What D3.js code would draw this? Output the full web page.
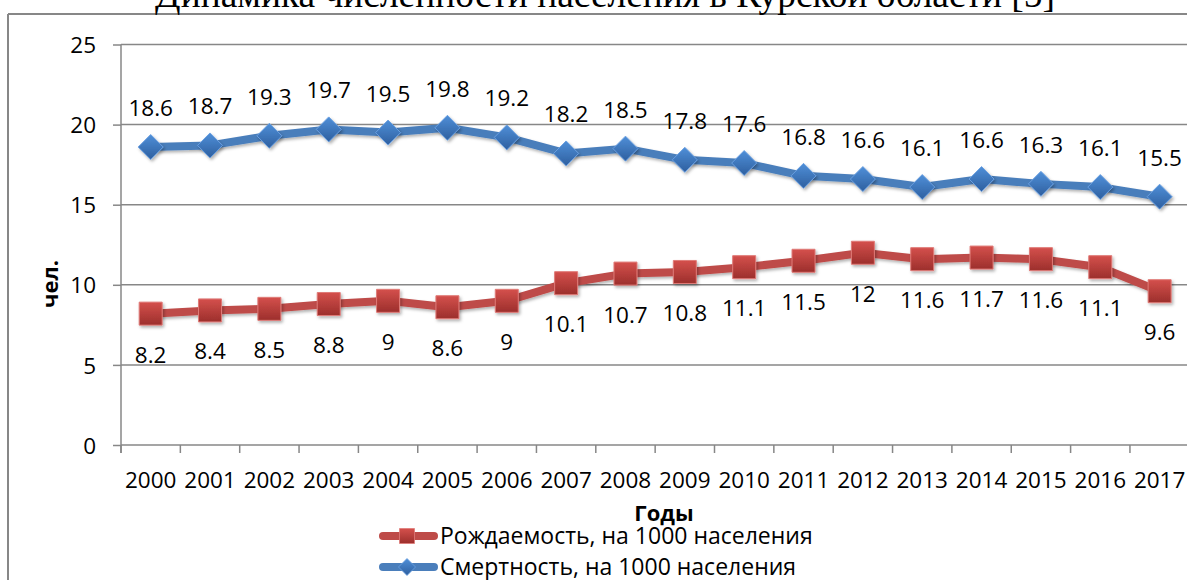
<!DOCTYPE html>
<html>
<head>
<meta charset="utf-8">
<script src="https://cdn.jsdelivr.net/npm/d3@7"></script>
<style>
  body { margin: 0; background: #fff; overflow: hidden; }
  svg { display: block; }
  .lbl { font-family: "Open Sans", sans-serif; fill: #000; }
</style>
</head>
<body>
<svg id="chart" width="1187" height="580"></svg>
<script>
const years = ["2000", "2001", "2002", "2003", "2004", "2005", "2006", "2007", "2008",
  "2009", "2010", "2011", "2012", "2013", "2014", "2015", "2016", "2017"];
const birthRate = [8.2, 8.4, 8.5, 8.8, 9, 8.6, 9, 10.1, 10.7, 10.8, 11.1, 11.5, 12, 11.6, 11.7, 11.6, 11.1, 9.6];
const deathRate = [18.6, 18.7, 19.3, 19.7, 19.5, 19.8, 19.2, 18.2, 18.5, 17.8, 17.6, 16.8, 16.6, 16.1, 16.6, 16.3, 16.1, 15.5];
const yTicks = [0, 5, 10, 15, 20, 25];
const titleText = "Динамика численности населения в Курской области [5]";
const xTitle = "Годы";
const yTitle = "чел.";

const series = [
  { name: "Рождаемость, на 1000 населения", values: birthRate, line: "#be4b48", hi: "#d4504c", lo: "#9c2f2c", edge: "#e07b78", shape: "square", labelPos: "below" },
  { name: "Смертность, на 1000 населения", values: deathRate, line: "#4a7ebb", hi: "#4f8fd8", lo: "#2e5f9f", edge: "#6a9fe0", shape: "diamond", labelPos: "above" }
];

const svg = d3.select("#chart");
const grey = "#878787";
const plotLeft = 121, plotRight = 121 + 59.35 * 18, plotTop = 44.5, plotBottom = 445;

const x = d3.scaleBand().domain(years).range([plotLeft, plotRight]);
const y = d3.scaleLinear().domain([0, 25]).range([plotBottom, plotTop]);
const cx = (yr) => x(yr) + x.bandwidth() / 2;

const defs = svg.append("defs");
series.forEach((s, i) => {
  const g = defs.append("linearGradient").attr("id", `mk${i}`).attr("x1", 0).attr("x2", 0).attr("y1", 0).attr("y2", 1);
  g.append("stop").attr("offset", "0%").attr("stop-color", s.hi);
  g.append("stop").attr("offset", "100%").attr("stop-color", s.lo);
});
const shadow = defs.append("filter").attr("id", "shadow").attr("x", "-50%").attr("y", "-50%").attr("width", "200%").attr("height", "200%");
shadow.append("feDropShadow").attr("dx", 1.5).attr("dy", 2).attr("stdDeviation", 1.5).attr("flood-color", "#000").attr("flood-opacity", 0.3);

// frame around the chart (top edge + left edge visible)
svg.append("line").attr("x1", 8).attr("x2", 1187).attr("y1", 14).attr("y2", 14).attr("stroke", grey).attr("stroke-width", 2);
svg.append("line").attr("x1", 8).attr("x2", 8).attr("y1", 14).attr("y2", 580).attr("stroke", grey).attr("stroke-width", 2);

// title, mostly cut off at the top
const title = svg.append("text")
  .attr("x", 605).attr("y", 7).attr("text-anchor", "middle")
  .style("font-family", "'Liberation Serif', 'Times New Roman', serif").style("font-size", "32px")
  .text(titleText);
const tw = title.node().getComputedTextLength();
title.style("font-size", `${(32 * 900) / tw}px`);

// gridlines
svg.append("g").selectAll("line").data(yTicks.filter((d) => d > 0)).join("line")
  .attr("x1", plotLeft).attr("x2", plotRight).attr("y1", (d) => y(d)).attr("y2", (d) => y(d))
  .attr("stroke", grey).attr("stroke-width", 1.5);

// y axis
const yAxis = svg.append("g").attr("transform", `translate(${plotLeft},0)`)
  .call(d3.axisLeft(y).tickValues(yTicks).tickSize(8).tickPadding(17).tickFormat(d3.format("d")));
yAxis.select(".domain").attr("stroke", grey).attr("stroke-width", 1.5).attr("d", `M0,${plotBottom + 8}V${plotTop}`);
yAxis.selectAll(".tick line").attr("stroke", grey).attr("stroke-width", 1.5);
yAxis.selectAll(".tick text").attr("class", "lbl").style("font-size", "22.5px").attr("dy", "0.36em");

// x axis: labels at category centres, ticks between categories
const xAxis = svg.append("g").attr("transform", `translate(0,${plotBottom})`)
  .call(d3.axisBottom(x).tickSize(0).tickPadding(27));
xAxis.select(".domain").remove();
xAxis.selectAll(".tick text").attr("class", "lbl").style("font-size", "22.5px").attr("dy", "0.71em").attr("y", 27);
svg.append("line").attr("x1", plotLeft).attr("x2", plotRight).attr("y1", plotBottom).attr("y2", plotBottom).attr("stroke", grey).attr("stroke-width", 1.5);
svg.append("g").selectAll("line").data(years.concat(["end"])).join("line")
  .attr("x1", (d) => (d === "end" ? plotRight : x(d))).attr("x2", (d) => (d === "end" ? plotRight : x(d)))
  .attr("y1", plotBottom).attr("y2", plotBottom + 8).attr("stroke", grey).attr("stroke-width", 1.5);

// axis titles
svg.append("text").attr("class", "lbl").attr("x", 664).attr("y", 521).attr("text-anchor", "middle")
  .style("font-size", "22px").style("font-weight", "bold").text(xTitle);
svg.append("text").attr("class", "lbl").attr("transform", "translate(58,284) rotate(-90)").attr("text-anchor", "middle")
  .style("font-size", "22px").style("font-weight", "bold").text(yTitle);

const markerPath = (shape, size) => {
  const h = size / 2;
  return shape === "square"
    ? `M${-h},${-h}H${h}V${h}H${-h}Z`
    : `M0,${-h - 1}L${h + 1},0L0,${h + 1}L${-h - 1},0Z`;
};

const line = d3.line().x((d) => cx(d.year)).y((d) => y(d.value));

series.forEach((s, i) => {
  const pts = years.map((yr, k) => ({ year: yr, value: s.values[k] }));
  const g = svg.append("g");
  g.append("path").datum(pts).attr("d", line).attr("fill", "none")
    .attr("stroke", s.line).attr("stroke-width", 8).attr("stroke-linejoin", "round").attr("stroke-linecap", "round")
    .attr("filter", "url(#shadow)");
  g.selectAll("path.mk").data(pts).join("path").attr("class", "mk")
    .attr("transform", (d) => `translate(${cx(d.year)},${y(d.value)})`)
    .attr("d", markerPath(s.shape, 23))
    .attr("fill", `url(#mk${i})`).attr("stroke", s.edge).attr("stroke-width", 1)
    .attr("filter", "url(#shadow)");
  g.selectAll("text").data(pts).join("text").attr("class", "lbl")
    .attr("x", (d) => cx(d.year))
    .attr("y", (d) => y(d.value) + (s.labelPos === "above" ? -31 : 49))
    .attr("text-anchor", "middle").style("font-size", "22.5px")
    .text((d) => String(d.value));
});

// legend
const legend = svg.append("g");
series.forEach((s, i) => {
  const ly = 536 + i * 31;
  const row = legend.append("g");
  row.append("line").attr("x1", 383).attr("x2", 434).attr("y1", ly).attr("y2", ly)
    .attr("stroke", s.line).attr("stroke-width", 8).attr("stroke-linecap", "round");
  row.append("path").attr("transform", `translate(407,${ly})`).attr("d", markerPath(s.shape, 15))
    .attr("fill", `url(#mk${i})`).attr("stroke", s.edge).attr("stroke-width", 0.8);
  row.append("text").attr("class", "lbl").attr("x", 440).attr("y", ly).attr("dy", "0.35em")
    .style("font-size", "23px").text(s.name);
});
</script>
</body>
</html>
